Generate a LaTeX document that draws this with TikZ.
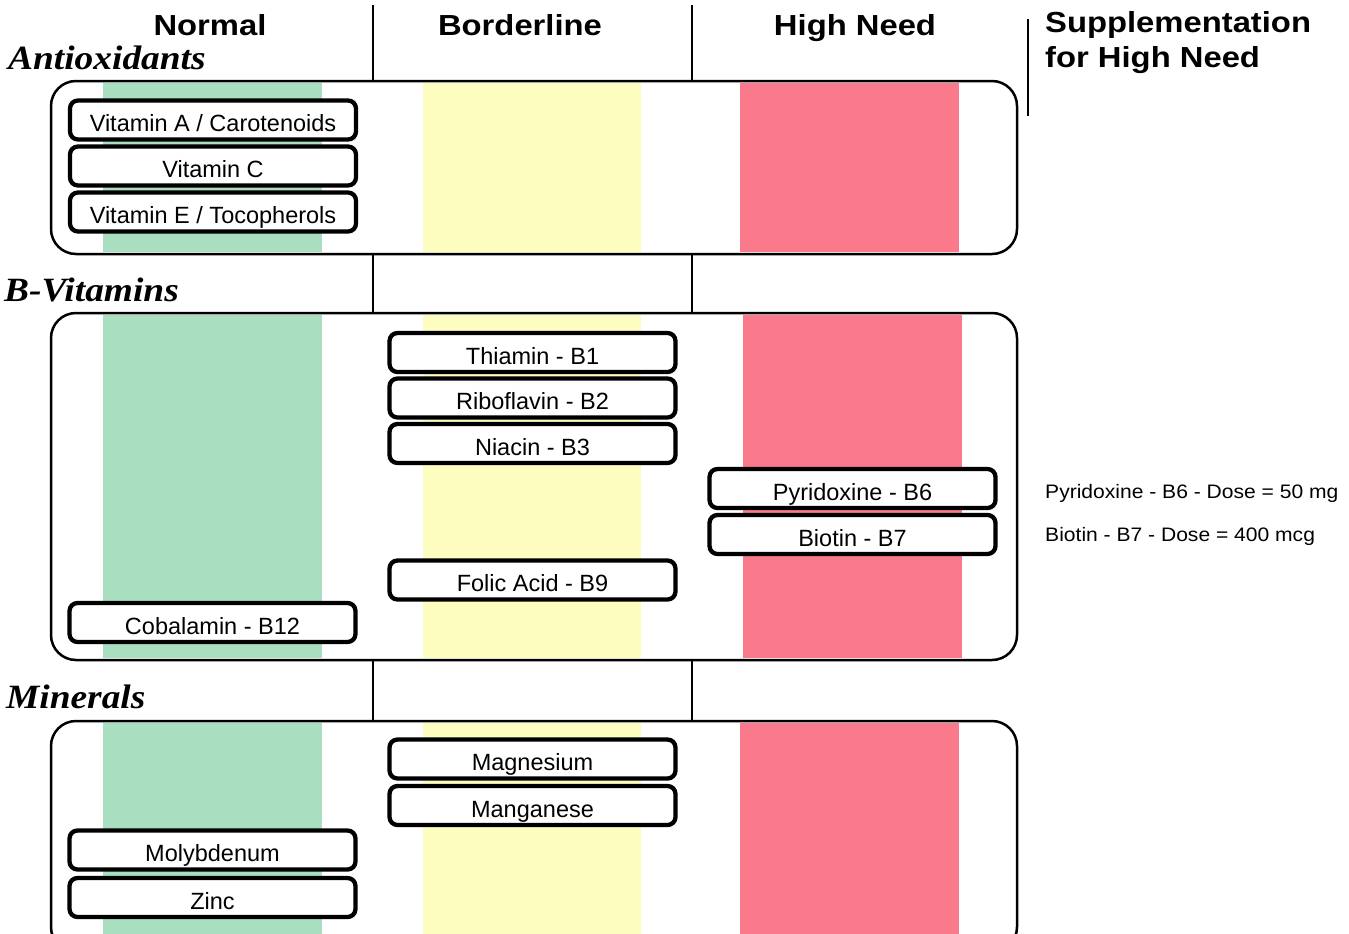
\documentclass[tikz,border=0pt]{standalone}
\usepackage{fontspec}
\setmainfont{Liberation Sans}
\newfontfamily\hdrfont[FakeStretch=1.13]{Liberation Sans}
\newfontfamily\ttlfont[FakeStretch=1.1]{Liberation Serif}
\newfontfamily\notefont[FakeStretch=1.08]{Liberation Sans}
\definecolor{bandgreen}{RGB}{169,222,192}
\definecolor{bandyellow}{RGB}{253,253,191}
\definecolor{bandred}{RGB}{250,121,139}
\begin{document}
\begin{tikzpicture}[x=1pt,y=-1pt,
  item/.style={draw, line width=4.3pt, rounded corners=8pt, fill=white,
    minimum width=286pt, minimum height=39pt, inner sep=0pt,
    font=\fontsize{23.5}{28}\selectfont, text height=23pt, text depth=0pt},
  hdr/.style={anchor=base, inner sep=0pt, font=\hdrfont\bfseries\fontsize{29}{34}\selectfont},
  ttl/.style={anchor=base west, inner sep=0pt, font=\ttlfont\bfseries\itshape\fontsize{34}{40}\selectfont},
  note/.style={anchor=base west, inner sep=0pt, font=\notefont\fontsize{19.5}{24}\selectfont},
  sect/.style={draw, line width=2.5pt, rounded corners=25pt},
  div/.style={line width=2pt}]
\useasboundingbox (0,0) rectangle (1349,934);
\clip (0,0) rectangle (1349,934);
% bands
\fill[bandgreen]  (103,83) rectangle (322,252);
\fill[bandyellow] (423,83) rectangle (641,252);
\fill[bandred]    (740,83) rectangle (959,252);
\fill[bandgreen]  (103,315) rectangle (322,658);
\fill[bandyellow] (423,315) rectangle (641,658);
\fill[bandred]    (743,315) rectangle (962,658);
\fill[bandgreen]  (103,723) rectangle (322,940);
\fill[bandyellow] (423,723) rectangle (641,940);
\fill[bandred]    (740,723) rectangle (959,940);
% section frames
\draw[sect] (51,81) rectangle (1017,254);
\draw[sect] (51,313) rectangle (1017,660);
\draw[sect] (51,721) rectangle (1017,952);
% dividers
\draw[div] (373,5) -- (373,81);
\draw[div] (692,5) -- (692,81);
\draw[div] (1028,19) -- (1028,116);
\draw[div] (373,254) -- (373,313);
\draw[div] (692,254) -- (692,313);
\draw[div] (373,660) -- (373,721);
\draw[div] (692,660) -- (692,721);
% headers
\node[hdr] (hnormal) at (210,36) {Normal};
\node[hdr] (hborder) at (520,36) {Borderline};
\node[hdr] (hhigh) at (855,36) {High Need};
\node[hdr, anchor=base west] (hsupp1) at (1045,33) {Supplementation};
\node[hdr, anchor=base west] (hsupp2) at (1045,67) {for High Need};
% section titles
\node[ttl] (tanti) at (8,70) {Antioxidants};
\node[ttl] (tbvit) at (4,301) {B-Vitamins};
\node[ttl] (tmin) at (6,708) {Minerals};
% items
\node[item] (vita) at (213,120) {Vitamin A / Carotenoids};
\node[item] (vitc) at (213,166) {Vitamin C};
\node[item] (vite) at (213,212) {Vitamin E / Tocopherols};
\node[item] (b1) at (532.5,352.5) {Thiamin - B1};
\node[item] (b2) at (532.5,398) {Riboflavin - B2};
\node[item] (b3) at (532.5,443.5) {Niacin - B3};
\node[item] (b6) at (852.5,488.5) {Pyridoxine - B6};
\node[item] (b7) at (852.5,534.5) {Biotin - B7};
\node[item] (b9) at (532.5,580) {Folic Acid - B9};
\node[item] (b12) at (212.5,622.5) {Cobalamin - B12};
\node[item] (mg) at (532.5,759) {Magnesium};
\node[item] (mn) at (532.5,805.5) {Manganese};
\node[item] (mo) at (212.5,850) {Molybdenum};
\node[item] (zn) at (212.5,897.5) {Zinc};
% notes
\node[note] (n6) at (1045,498) {Pyridoxine - B6 - Dose = 50 mg};
\node[note] (n7) at (1045,541) {Biotin - B7 - Dose = 400 mcg};
\end{tikzpicture}
\end{document}
